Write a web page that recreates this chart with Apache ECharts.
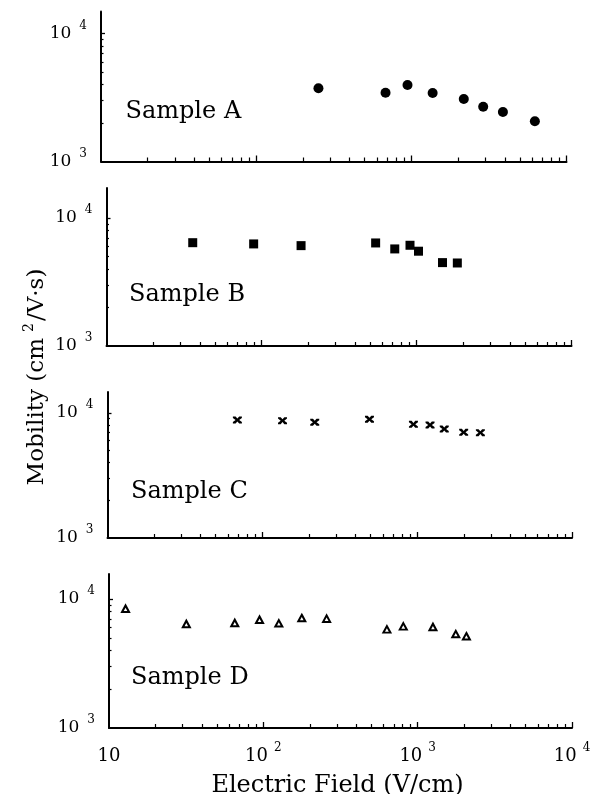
<!DOCTYPE html>
<html>
<head>
<meta charset="utf-8">
<script src="https://cdn.jsdelivr.net/npm/echarts@6/dist/echarts.min.js"></script>
<style>
html, body { margin: 0; padding: 0; background: #fff; }
#chart { width: 593px; height: 794px; }
</style>
</head>
<body>
<div id="chart"></div>
<script>
// values (V/cm, cm^2/V.s)
const fieldA = [252, 682, 945, 1372, 2178, 2905, 3892, 6254];
const mobilityA = [3730, 3450, 3960, 3430, 3080, 2680, 2440, 2060];

const fieldB = [36, 89, 180, 545, 724, 908, 1030, 1471, 1834];
const mobilityB = [6410, 6270, 6080, 6380, 5730, 6120, 5500, 4480, 4450];

const fieldC = [69, 135, 218, 492, 946, 1211, 1496, 1997, 2560];
const mobilityC = [8790, 8680, 8430, 8910, 8120, 8020, 7450, 7010, 6960];

const fieldD = [12.8, 31.7, 65.3, 94.5, 126, 177.5, 257, 632, 807, 1256, 1766, 2069];
const mobilityD = [8410, 6400, 6520, 6910, 6480, 7120, 7040, 5820, 6140, 6070, 5350, 5140];

const sampleNames = ['Sample A', 'Sample B', 'Sample C', 'Sample D'];

// axis ticks (powers of ten and the minor ticks between them)
const xDecades = [1, 2, 3, 4];
const yDecades = [3, 4];
const xMinorTicks = [20, 30, 40, 50, 60, 70, 80, 90, 200, 300, 400, 500, 600, 700, 800, 900,
    2000, 3000, 4000, 5000, 6000, 7000, 8000, 9000];
const yMinorTicks = [2000, 3000, 4000, 5000, 6000, 7000, 8000, 9000];
const yTopExp = [4.172, 4.234, 4.168, 4.194];

const font = 'DejaVu Serif';
const panels = [
    { left: 101, right: 26.5, top: 11.5, height: 150 },
    { left: 106.5, right: 21.5, top: 188, height: 158 },
    { left: 107.5, right: 21, top: 392, height: 146 },
    { left: 109, right: 21, top: 574, height: 154 }
];
const fields = [fieldA, fieldB, fieldC, fieldD];
const mobilities = [mobilityA, mobilityB, mobilityC, mobilityD];
const markers = [
    { symbol: 'circle', symbolSize: 10, itemStyle: { color: '#000', opacity: 1 } },
    { symbol: 'rect', symbolSize: 9, itemStyle: { color: '#000', opacity: 1 } },
    {
        symbol: 'path://M0,0 L3,0 L5,3 L7,0 L10,0 L10,2 L7,5 L10,8 L10,10 L7,10 L5,7 L3,10 L0,10 L0,8 L3,5 L0,2 Z',
        symbolSize: [9, 7], itemStyle: { color: '#000', opacity: 1 }
    },
    { symbol: 'triangle', symbolSize: [7, 6.5], itemStyle: { color: '#fff', borderColor: '#000', borderWidth: 2, opacity: 1 } }
];

const lg = v => Math.log10(v);
const grids = [];
const xAxes = [];
const yAxes = [];
const series = [];
const graphics = [];

// log axes that carry the data
for (let i = 0; i < 4; i++) {
    grids.push({ left: panels[i].left, right: panels[i].right, top: panels[i].top, height: panels[i].height, outerBoundsMode: 'none' });
    xAxes.push({ type: 'log', logBase: 10, gridIndex: i, min: 10, max: 10000, show: false });
    yAxes.push({ type: 'log', logBase: 10, gridIndex: i, min: 1000, max: Math.pow(10, yTopExp[i]), show: false });
}
// decade axes: line, long ticks, labels (exponent space)
for (let i = 0; i < 4; i++) {
    xAxes.push({
        type: 'value', gridIndex: i, position: 'bottom', min: 1, max: 4,
        axisLine: { show: true, onZero: false, lineStyle: { color: '#000', width: 2 } },
        axisTick: { show: true, inside: true, length: 6, customValues: [2, 3, 4], lineStyle: { color: '#000', width: 1.3 } },
        axisLabel: {
            show: i === 3, customValues: xDecades, margin: 14, showMinLabel: true, showMaxLabel: true,
            formatter: v => v === 1 ? '{n|10}' : '{n|10}{s|' + v + '}',
            rich: {
                n: { fontFamily: font, fontSize: 18, lineHeight: 28, color: '#000' },
                s: { fontFamily: font, fontSize: 12, verticalAlign: 'top', lineHeight: 14, padding: [0, 0, 0, 6], color: '#000' }
            }
        },
        splitLine: { show: false }
    });
    yAxes.push({
        type: 'value', gridIndex: i, position: 'left', min: 3, max: yTopExp[i],
        axisLine: { show: true, onZero: false, lineStyle: { color: '#000', width: 2 } },
        axisTick: { show: true, inside: true, length: 4, customValues: [4], lineStyle: { color: '#000', width: 1.3 } },
        axisLabel: {
            customValues: yDecades, margin: 14, showMinLabel: true, showMaxLabel: true,
            formatter: v => '{n|10}{s|' + v + '}',
            rich: {
                n: { fontFamily: font, fontSize: 17, lineHeight: 28, color: '#000' },
                s: { fontFamily: font, fontSize: 12, verticalAlign: 'top', lineHeight: 14, padding: [0, 0, 0, 8], color: '#000' }
            }
        },
        splitLine: { show: false }
    });
}
// minor tick axes
for (let i = 0; i < 4; i++) {
    xAxes.push({
        type: 'value', gridIndex: i, position: 'bottom', min: 1, max: 4,
        axisLine: { show: false, onZero: false },
        axisTick: { show: true, inside: true, length: 4, customValues: xMinorTicks.map(lg), lineStyle: { color: '#000', width: 1.2 } },
        axisLabel: { show: false },
        splitLine: { show: false }
    });
    yAxes.push({
        type: 'value', gridIndex: i, position: 'left', min: 3, max: yTopExp[i],
        axisLine: { show: false, onZero: false },
        axisTick: { show: true, inside: true, length: 2.5, customValues: yMinorTicks.map(lg), lineStyle: { color: '#000', width: 1.2 } },
        axisLabel: { show: false },
        splitLine: { show: false }
    });
}

for (let i = 0; i < 4; i++) {
    const data = [];
    for (let j = 0; j < fields[i].length; j++) {
        data.push([fields[i][j], mobilities[i][j]]);
    }
    series.push(Object.assign({
        type: 'scatter', name: sampleNames[i], xAxisIndex: i, yAxisIndex: i,
        data: data, silent: true, z: 5
    }, markers[i]));
}

const sampleLabelPos = [[125.5, 112], [129, 295], [131, 492], [131, 678]];
for (let i = 0; i < 4; i++) {
    graphics.push({
        type: 'text', x: sampleLabelPos[i][0], y: sampleLabelPos[i][1],
        style: { text: sampleNames[i], font: '24px "' + font + '"', fill: '#000', textAlign: 'left', textVerticalAlign: 'middle' }
    });
}
graphics.push({
    type: 'text', x: 337.5, y: 786,
    style: { text: 'Electric Field (V/cm)', font: '24px "' + font + '"', fill: '#000', textAlign: 'center', textVerticalAlign: 'middle' }
});
graphics.push({
    type: 'text', x: 37, y: 377, rotation: Math.PI / 2,
    style: {
        text: '{a|Mobility (cm}{s|2}{a|/V·s)}', textAlign: 'center', textVerticalAlign: 'middle',
        rich: {
            a: { fontFamily: font, fontSize: 23, lineHeight: 30, fill: '#000' },
            s: { fontFamily: font, fontSize: 14, verticalAlign: 'top', lineHeight: 16, padding: [0, 2, 0, 6], fill: '#000' }
        }
    }
});

const chart = echarts.init(document.getElementById('chart'), null, { renderer: 'canvas' });
chart.setOption({
    animation: false,
    backgroundColor: '#fff',
    grid: grids,
    xAxis: xAxes,
    yAxis: yAxes,
    series: series,
    graphic: graphics
});
</script>
</body>
</html>
